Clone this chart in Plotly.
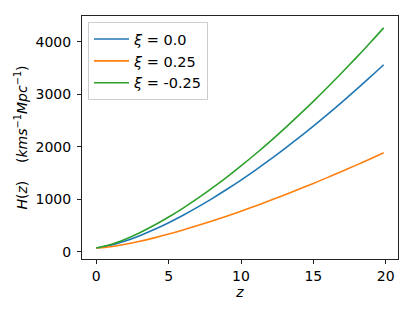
import plotly.graph_objects as go

z = [0, 1, 2, 3, 4, 5, 6, 7, 8, 9, 10, 11, 12, 13, 14, 15, 16, 17, 18, 19, 19.86]
h_xi_0 = [70, 121, 203, 305, 422, 553, 695, 849, 1012, 1185, 1366, 1556, 1754, 1961, 2174, 2395, 2623, 2858, 3099, 3347, 3565]
h_xi_p025 = [70, 95, 140, 197, 263, 335, 414, 497, 585, 676, 772, 872, 974, 1080, 1190, 1302, 1417, 1535, 1655, 1778, 1886]
h_xi_m025 = [70, 137, 238, 362, 503, 660, 831, 1015, 1211, 1417, 1635, 1863, 2100, 2347, 2603, 2867, 3140, 3421, 3710, 4007, 4268]

series = [
    ("<i>ξ</i> = 0.0", h_xi_0, "#1f77b4"),
    ("<i>ξ</i> = 0.25", h_xi_p025, "#ff7f0e"),
    ("<i>ξ</i> = -0.25", h_xi_m025, "#2ca02c"),
]

x_ticks = [0, 5, 10, 15, 20]
y_ticks = [0, 1000, 2000, 3000, 4000]

fig = go.Figure()
for i, (name, vals, col) in enumerate(series):
    fig.add_trace(go.Scatter(x=z, y=vals, mode="lines", name=name,
                             line=dict(color=col, width=1.6, shape="spline")))

font = dict(family="DejaVu Sans", size=14, color="black")
legend_font = dict(family="DejaVu Sans", size=14.5, color="black")
axis_common = dict(showline=True, linecolor="#222", linewidth=1, mirror=True,
                   ticks="outside", ticklen=4, tickcolor="#222", tickwidth=1,
                   showgrid=False, zeroline=False, tickfont=font, automargin=False)

fig.update_layout(
    width=415, height=311,
    margin=dict(l=82, r=17, t=16, b=52),
    paper_bgcolor="white", plot_bgcolor="white",
    font=font,
    xaxis=dict(range=[-0.99, 20.85], tickvals=x_ticks,
               title=dict(text="<i>z</i>", font=font, standoff=2), **axis_common),
    yaxis=dict(range=[-140, 4495], tickvals=y_ticks, ticklabelstandoff=3,
               title=dict(text="<i>H</i>(<i>z</i>)    (<i>kms</i><sup>−1</sup><i>Mpc</i><sup>−1</sup>)",
                          font=font, standoff=4), **axis_common),
    legend=dict(x=0.019, y=0.975, xanchor="left", yanchor="top",
                bordercolor="#cccccc", borderwidth=1, bgcolor="rgba(255,255,255,0.8)",
                font=legend_font, itemwidth=35),
    showlegend=True,
)

fig.write_html("out.html", config={"displayModeBar": False},
               post_script="document.body.style.margin='0';")
